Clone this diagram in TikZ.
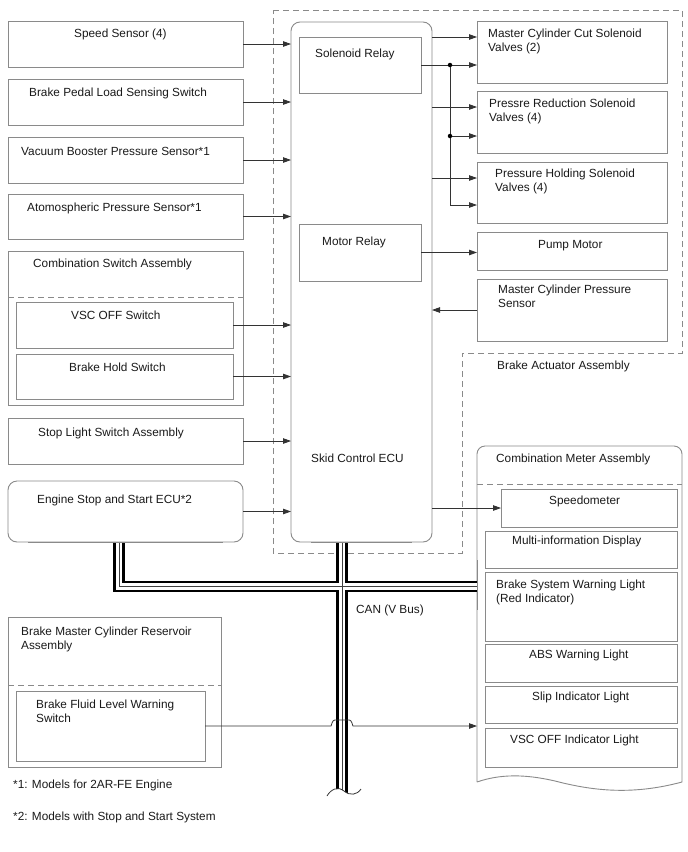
\documentclass[tikz,border=0pt]{standalone}
\usepackage{fontspec}
\setmainfont{Liberation Sans}
\usetikzlibrary{arrows.meta,calc}
\definecolor{boxgray}{HTML}{8A8A8A}
\definecolor{lncol}{HTML}{333333}
\definecolor{txt}{HTML}{1A1A1A}
\begin{document}
\begin{tikzpicture}[x=1pt,y=-1pt,
  box/.style={draw=boxgray, line width=0.9pt, anchor=north west, inner sep=0pt, outer sep=0pt},
  lbl/.style={anchor=base west, inner sep=0pt, align=left, font=\fontsize{11.8}{14}\selectfont, text=txt},
  conn/.style={draw=lncol, line width=0.8pt},
  arr/.style={conn, -{Triangle[length=8pt,width=5.5pt]}},
  dsh/.style={draw=boxgray, line width=0.9pt, dash pattern=on 6pt off 4pt},
  jdot/.style={circle, fill=black, inner sep=0pt, minimum size=4.5pt},
]
\useasboundingbox[fill=white] (0,0) rectangle (688,852);

% ---------- boxes ----------
\node[box, minimum width=235pt, minimum height=46pt] (speed) at (8,21) {};
\node[box, minimum width=235pt, minimum height=46pt] (pedal) at (8,79) {};
\node[box, minimum width=235pt, minimum height=46pt] (vac) at (8,137) {};
\node[box, minimum width=235pt, minimum height=45pt] (atm) at (8,194) {};
\node[box, minimum width=235pt, minimum height=154pt] (combsw) at (8,251) {};
\node[box, minimum width=217pt, minimum height=46pt] (vscsw) at (16,302) {};
\node[box, minimum width=217pt, minimum height=45pt] (holdsw) at (16,354) {};
\node[box, minimum width=235pt, minimum height=46pt] (stopsw) at (8,418) {};
\node[box, rounded corners=9pt, minimum width=235pt, minimum height=61pt] (engine) at (8,481) {};

\node[box, rounded corners=9pt, minimum width=141pt, minimum height=520pt] (ecu) at (291,22) {};
\node[box, minimum width=122pt, minimum height=56pt] (sol) at (299,37) {};
\node[box, minimum width=122pt, minimum height=57pt] (motor) at (299,224) {};

\node[box, minimum width=190pt, minimum height=62pt] (mcc) at (477,21) {};
\node[box, minimum width=190pt, minimum height=62pt] (prs) at (477,91) {};
\node[box, minimum width=190pt, minimum height=61pt] (phs) at (477,162) {};
\node[box, minimum width=190pt, minimum height=38pt] (pump) at (477,232) {};
\node[box, minimum width=190pt, minimum height=62pt] (mcps) at (477,279) {};

\node[box, minimum width=176pt, minimum height=38pt] (speedo) at (501,489) {};
\node[box, minimum width=192pt, minimum height=37pt] (mid) at (485,531) {};
\node[box, minimum width=192pt, minimum height=69pt] (bsw) at (485,572) {};
\node[box, minimum width=192pt, minimum height=38pt] (abs) at (485,644) {};
\node[box, minimum width=192pt, minimum height=37pt] (slip) at (485,686) {};
\node[box, minimum width=192pt, minimum height=39pt] (vscind) at (485,728) {};

\node[box, minimum width=213pt, minimum height=150pt] (res) at (8,617) {};
\node[box, minimum width=189pt, minimum height=70pt] (fluid) at (16,691) {};

% internal dashed separators
\draw[dsh] ([yshift=-46pt]combsw.north west) -- ([yshift=-46pt]combsw.north east);
\draw[dsh] ([yshift=-68pt]res.north west) -- ([yshift=-68pt]res.north east);

% combination meter outline
\coordinate (mtl) at (477,446);
\draw[draw=boxgray, line width=0.9pt] (477,782) -- (477,454) arc[start angle=180, end angle=270, radius=8]
  -- (674,446) arc[start angle=270, end angle=360, radius=8] -- (682,782)
  .. controls (630,796) and (590,790) .. (555,781)
  .. controls (525,774) and (500,774) .. (477,782);
\draw[dsh] (477,484) -- (682,484);

% brake actuator assembly outline
\draw[dsh] (273,10) -- (682,10) -- (682,353) -- (462,353) -- (462,553) -- (273,553) -- cycle;

% ---------- CAN bus ----------
\coordinate (bt) at ([xshift=51pt]ecu.south west);
\coordinate (bb) at ([yshift=-262pt]bt);
\coordinate (be) at ([xshift=111pt]engine.south west);
\coordinate (bc) at ([yshift=-44.5pt]be);
\begin{scope}
\clip (90,530) -- (490,530) -- (490,789) -- (361,789) .. controls (357,795) and (350,796) .. (344,791)
  .. controls (338,786) and (331,789) .. (327,796) -- (90,796) -- cycle;
\draw[line width=11.5pt, black] (be) -- (bc) -- (bc -| mtl) (bt) -- (bb);
\draw[line width=6.5pt, white] (be) -- (bc) -- (bc -| mtl) (bt) -- (bb);
\draw[line width=0.9pt, black!75] (be) -- (bc) -- (bc -| mtl) (bt) -- (bb);
\end{scope}
\draw[conn] (327,796) .. controls (331,789) and (338,786) .. (344,791) .. controls (350,796) and (357,795) .. (361,789);
% redraw borders over bus ends
\draw[draw=boxgray, line width=0.9pt] (ecu.south west) ++(20,0) -- ([xshift=-20pt]ecu.south east);
\draw[draw=boxgray, line width=0.9pt] (engine.south west) ++(20,0) -- ([xshift=-20pt]engine.south east);
\draw[draw=boxgray, line width=0.9pt] (477,560) -- (477,610);

% ---------- connectors ----------
\draw[arr] (speed.east) -- (speed.east -| ecu.west);
\draw[arr] (pedal.east) -- (pedal.east -| ecu.west);
\draw[arr] (vac.east) -- (vac.east -| ecu.west);
\draw[arr] (atm.east) -- (atm.east -| ecu.west);
\draw[arr] (vscsw.east) -- (vscsw.east -| ecu.west);
\draw[arr] (holdsw.east) -- (holdsw.east -| ecu.west);
\draw[arr] (stopsw.east) -- (stopsw.east -| ecu.west);
\draw[arr] (engine.east) -- (engine.east -| ecu.west);

\coordinate (j1) at ([yshift=-16pt]mcc.north west);
\coordinate (jx) at ([xshift=29pt]sol.east);
\coordinate (j3) at ([yshift=-16pt]prs.north west);
\coordinate (j4) at ([yshift=-45pt]prs.north west);
\coordinate (j5) at ([yshift=-16pt]phs.north west);
\coordinate (j6) at ([yshift=-43pt]phs.north west);
\draw[arr] (j1 -| ecu.east) -- (j1);
\draw[arr] (sol.east) -- (sol.east -| mcc.west);
\draw[arr] (j3 -| ecu.east) -- (j3);
\draw[arr] (j4 -| jx) -- (j4);
\draw[arr] (j5 -| ecu.east) -- (j5);
\draw[arr] (jx) |- (j6);
\node[jdot] (d1) at (jx) {};
\node[jdot] (d2) at (j4 -| jx) {};
\draw[arr] (motor.east) -- (motor.east -| pump.west);
\draw[arr] (mcps.west) -- (mcps.west -| ecu.east);
\draw[arr] (speedo.west -| ecu.east) -- (speedo.west);

\coordinate (hp) at (fluid.east -| bt);
\draw[arr] (fluid.east) -- ([xshift=-11pt]hp)
  .. controls ([xshift=-9pt,yshift=6pt]hp) .. ([xshift=-5pt,yshift=6pt]hp)
  -- ([xshift=5pt,yshift=6pt]hp)
  .. controls ([xshift=9pt,yshift=6pt]hp) .. ([xshift=11pt]hp)
  -- (fluid.east -| mtl);

% ---------- labels ----------
\node[lbl] (t1) at (74,37.5) {Speed Sensor (4)};
\node[lbl] (t2) at (29,96) {Brake Pedal Load Sensing Switch};
\node[lbl] (t3) at (21,155) {Vacuum Booster Pressure Sensor*1};
\node[lbl] (t4) at (27,211.5) {Atomospheric Pressure Sensor*1};
\node[lbl] (t5) at (33,267) {Combination Switch Assembly};
\node[lbl] (t6) at (71,319.5) {VSC OFF Switch};
\node[lbl] (t7) at (69,371) {Brake Hold Switch};
\node[lbl] (t8) at (38,436) {Stop Light Switch Assembly};
\node[lbl] (t9) at (37,503) {Engine Stop and Start ECU*2};

\node[lbl] (t10) at (315,57) {Solenoid Relay};
\node[lbl] (t11) at (322,245) {Motor Relay};
\node[lbl] (t12) at (311,462.5) {Skid Control ECU};

\node[lbl] (t13) at (488,51) {Master Cylinder Cut Solenoid\\Valves (2)};
\node[lbl] (t14) at (489,121) {Pressre Reduction Solenoid\\Valves (4)};
\node[lbl] (t15) at (495,191) {Pressure Holding Solenoid\\Valves (4)};
\node[lbl] (t16) at (538,248) {Pump Motor};
\node[lbl] (t17) at (498,307.5) {Master Cylinder Pressure\\Sensor};
\node[lbl] (t18) at (497,369.5) {Brake Actuator Assembly};

\node[lbl] (t19) at (496,462) {Combination Meter Assembly};
\node[lbl] (t20) at (549,504.5) {Speedometer};
\node[lbl] (t21) at (512,544.5) {Multi-information Display};
\node[lbl] (t22) at (496,602) {Brake System Warning Light\\(Red Indicator)};
\node[lbl] (t23) at (529,658.5) {ABS Warning Light};
\node[lbl] (t24) at (532,700) {Slip Indicator Light};
\node[lbl] (t25) at (510,743.5) {VSC OFF Indicator Light};

\node[lbl] (t26) at (356,613.5) {CAN (V Bus)};
\node[lbl] (t27) at (21,649) {Brake Master Cylinder Reservoir\\Assembly};
\node[lbl] (t28) at (36,722.5) {Brake Fluid Level Warning\\Switch};
\node[lbl] (t29) at (13,788.5) {*1: Models for 2AR-FE Engine};
\node[lbl] (t30) at (13,820) {*2: Models with Stop and Start System};
\end{tikzpicture}
\end{document}
